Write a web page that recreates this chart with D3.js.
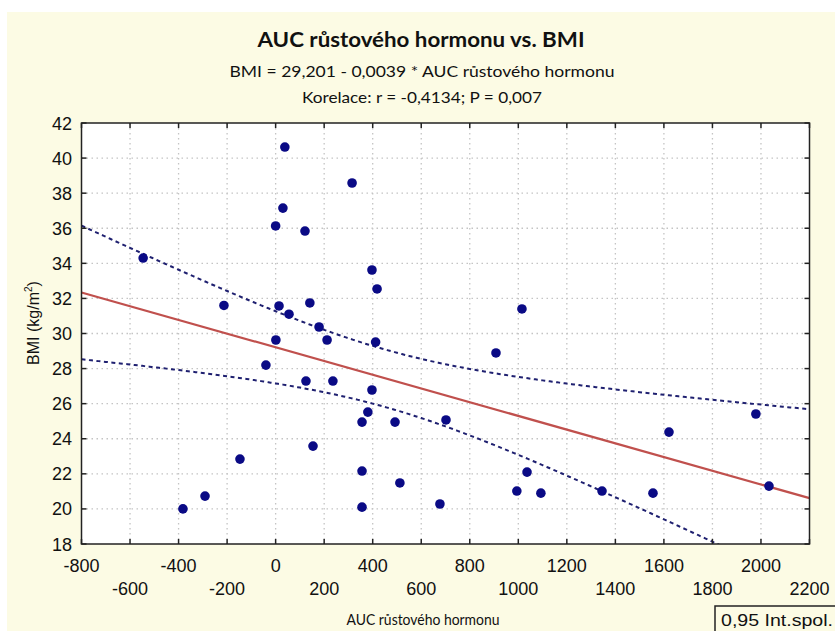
<!DOCTYPE html>
<html><head><meta charset="utf-8">
<script src="https://cdn.jsdelivr.net/npm/d3@7"></script>
<style>html,body{margin:0;padding:0;background:#fff;}svg{display:block;}</style>
</head><body>
<script>
// ---- data ----
const auc = [-546,-213,-291,-382,-147,-40,1,14,0,30,38,55,121,125,141,154,179,212,236,315,356,356,356,380,397,397,418,412,492,512,677,702,908,994,1015,1036,1093,1345,1555,1621,1979,2033];
const bmi = [34.3,31.6,20.73,20.0,22.84,28.2,29.63,31.57,36.13,37.15,40.63,31.1,35.84,27.29,31.74,23.58,30.37,29.63,27.29,38.58,24.95,22.16,20.1,25.52,33.62,26.78,32.54,29.51,24.95,21.48,20.28,25.07,28.89,21.02,31.4,22.1,20.9,21.02,20.9,24.38,25.41,21.3];
const xTicks = [-800,-600,-400,-200,0,200,400,600,800,1000,1200,1400,1600,1800,2000,2200];
const yTicks = [18,20,22,24,26,28,30,32,34,36,38,40,42];
const titleText = "AUC růstového hormonu vs. BMI";
const eqText = "BMI = 29,201 - 0,0039 * AUC růstového hormonu";
const corText = "Korelace: r = -0,4134; P = 0,007";
const xLabel = "AUC růstového hormonu";
const legendText = "0,95 Int.spol.";

const W = 835, H = 631;
const L = 81.5, R = 809.5, T = 123, B = 544;
const svg = d3.select("body").append("svg").attr("width", W).attr("height", H);
svg.append("rect").attr("x",7).attr("y",12).attr("width",W-7).attr("height",H-12).attr("fill","#fcfbe4");
svg.append("rect").attr("x",L).attr("y",T).attr("width",R-L).attr("height",B-T).attr("fill","#fff");

const x = d3.scaleLinear().domain([-800,2200]).range([L,R]);
const y = d3.scaleLinear().domain([18,42]).range([B,T]);

// grid
const g = svg.append("g");
g.selectAll(".gx").data(xTicks.slice(1,-1)).join("line")
  .attr("x1",d=>x(d)).attr("x2",d=>x(d)).attr("y1",T).attr("y2",B)
  .attr("stroke","#c4c4c4").attr("stroke-width",1.3).attr("stroke-dasharray","1.5,3.5");
g.selectAll(".gy").data(yTicks.slice(1,-1)).join("line")
  .attr("y1",d=>y(d)).attr("y2",d=>y(d)).attr("x1",L).attr("x2",R)
  .attr("stroke","#c4c4c4").attr("stroke-width",1.3).attr("stroke-dasharray","1.5,3.5");

// regression
const n = auc.length;
const mx = d3.mean(auc), my = d3.mean(bmi);
let sxx=0, sxy=0;
for (let i=0;i<n;i++){ sxx+=(auc[i]-mx)**2; sxy+=(auc[i]-mx)*(bmi[i]-my); }
const b1 = sxy/sxx, b0 = my - b1*mx;
let sse=0; for (let i=0;i<n;i++){ sse+=(bmi[i]-b0-b1*auc[i])**2; }
const s = Math.sqrt(sse/(n-2));
const tcrit = 2.021;
const xs = d3.range(-800, 2201, 10);
const hw = v => tcrit*s*Math.sqrt(1/n + (v-mx)**2/sxx);

svg.append("clipPath").attr("id","clip").append("rect").attr("x",L).attr("y",T).attr("width",R-L).attr("height",B-T);
const cg = svg.append("g").attr("clip-path","url(#clip)");
const line = d3.line().x(d=>x(d[0])).y(d=>y(d[1]));
cg.append("path").attr("d", line(xs.map(v=>[v, b0+b1*v+hw(v)])))
  .attr("fill","none").attr("stroke","#1f2070").attr("stroke-width",2).attr("stroke-dasharray","4,3.5");
cg.append("path").attr("d", line(xs.map(v=>[v, b0+b1*v-hw(v)])))
  .attr("fill","none").attr("stroke","#1f2070").attr("stroke-width",2).attr("stroke-dasharray","4,3.5");
cg.append("path").attr("d", line([[-800,b0+b1*-800],[2200,b0+b1*2200]]))
  .attr("fill","none").attr("stroke","#c0504d").attr("stroke-width",2.2);

// points
cg.selectAll("circle").data(auc.map((v,i)=>[v,bmi[i]])).join("circle")
  .attr("cx",d=>x(d[0])).attr("cy",d=>y(d[1])).attr("r",4.8).attr("fill","#0a0a85");

// frame & ticks
const ax = svg.append("g").attr("stroke","#222").attr("stroke-width",1.5);
ax.append("rect").attr("x",L).attr("y",T).attr("width",R-L).attr("height",B-T).attr("fill","none");
xTicks.forEach(v=>{
  ax.append("line").attr("x1",x(v)).attr("x2",x(v)).attr("y1",B).attr("y2",B-5);
  ax.append("line").attr("x1",x(v)).attr("x2",x(v)).attr("y1",T).attr("y2",T+5);
});
yTicks.forEach(v=>{
  ax.append("line").attr("y1",y(v)).attr("y2",y(v)).attr("x1",L).attr("x2",L+5);
  ax.append("line").attr("y1",y(v)).attr("y2",y(v)).attr("x1",R).attr("x2",R-5);
});

// tick labels
const tf = "'Liberation Sans', Arial, sans-serif";
svg.selectAll(".yl").data(yTicks).join("text")
  .attr("x",72).attr("y",d=>y(d)+6.5).attr("text-anchor","end")
  .attr("font-family",tf).attr("font-size",18).attr("fill","#111").text(d=>d);
svg.selectAll(".xl").data(xTicks).join("text")
  .attr("x",d=>x(d)).attr("y",(d,i)=>i%2===0?572:595).attr("text-anchor","middle")
  .attr("font-family",tf).attr("font-size",18).attr("fill","#111").text(d=>d);

// titles
const cf = "Lato, 'Open Sans', sans-serif";
svg.append("text").attr("x",421).attr("y",47).attr("text-anchor","middle")
  .attr("font-family",cf).attr("font-weight","bold").attr("font-size",21).attr("fill","#111")
  .attr("textLength",327).attr("lengthAdjust","spacingAndGlyphs").text(titleText);
svg.append("text").attr("x",422).attr("y",77).attr("text-anchor","middle")
  .attr("font-family",cf).attr("font-size",15).attr("fill","#111")
  .attr("textLength",385).attr("lengthAdjust","spacingAndGlyphs").text(eqText);
svg.append("text").attr("x",422).attr("y",103).attr("text-anchor","middle")
  .attr("font-family",cf).attr("font-size",15).attr("fill","#111")
  .attr("textLength",240).attr("lengthAdjust","spacingAndGlyphs").text(corText);
svg.append("text").attr("x",423).attr("y",625).attr("text-anchor","middle")
  .attr("font-family",cf).attr("font-size",15.5).attr("fill","#111")
  .attr("textLength",153).attr("lengthAdjust","spacingAndGlyphs").text(xLabel);

// y label
const yl = svg.append("text").attr("transform","translate(39,323) rotate(-90)").attr("text-anchor","middle")
  .attr("font-family",tf).attr("font-size",16).attr("fill","#111");
yl.append("tspan").text("BMI (kg/m");
yl.append("tspan").attr("font-size",10).attr("dy",-7).text("2");
yl.append("tspan").attr("dy",7).text(")");

// legend box
svg.append("rect").attr("x",715).attr("y",606).attr("width",130).attr("height",40)
  .attr("fill","none").attr("stroke","#222").attr("stroke-width",1.5);
svg.append("text").attr("x",721).attr("y",626).attr("font-family",tf).attr("font-size",16).attr("fill","#111")
  .attr("textLength",112).attr("lengthAdjust","spacingAndGlyphs").text(legendText);
</script>
</body></html>
